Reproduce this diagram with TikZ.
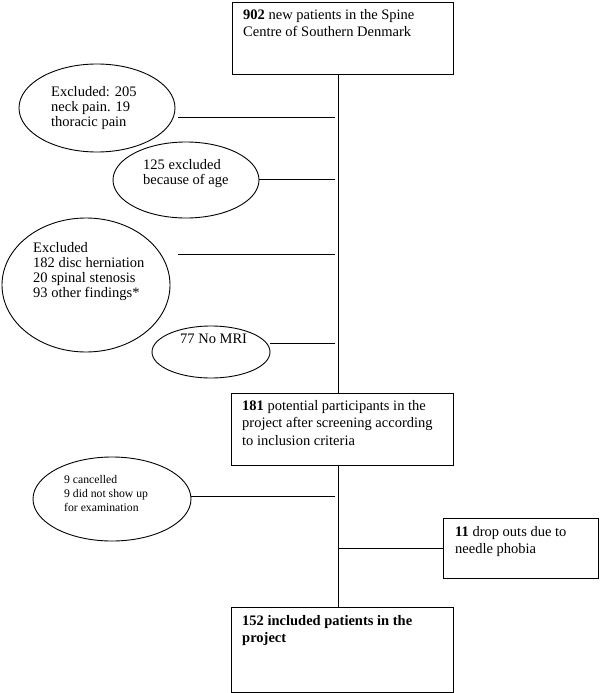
\documentclass[tikz,border=0pt]{standalone}
\usepackage{fontspec}
\setmainfont{Liberation Serif}
\usetikzlibrary{shapes.geometric}
\begin{document}
\begin{tikzpicture}[x=1pt,y=-1pt,
  ln/.style={line width=0.9pt},
  boxnode/.style={draw,line width=0.9pt,rectangle,inner sep=0pt},
  ell/.style={draw,line width=0.9pt,ellipse,inner sep=0pt},
  boxtxt/.style={anchor=north west,inner sep=0pt,align=left,font=\fontsize{14.5}{17.5}\selectfont},
  elltxt/.style={anchor=north west,inner sep=0pt,align=left,font=\fontsize{14.5}{15.2}\selectfont},
  smalltxt/.style={anchor=north west,inner sep=0pt,align=left,font=\fontsize{11.7}{14}\selectfont}]
\useasboundingbox (0,0) rectangle (600,693);
% boxes
\node[boxnode,minimum width=221pt,minimum height=72pt] (top) at (342.5,38) {};
\node[boxnode,minimum width=222pt,minimum height=72pt] (b181) at (342,429) {};
\node[boxnode,minimum width=222pt,minimum height=85pt] (b152) at (342,649.5) {};
\node[boxnode,minimum width=155pt,minimum height=60pt] (bdrop) at (520.5,548) {};
% ellipses
\node[ell,minimum width=156pt,minimum height=88pt] (e1) at (97,108) {};
\node[ell,minimum width=146pt,minimum height=76pt] (e2) at (186,180) {};
\node[ell,minimum width=168pt,minimum height=134pt] (e3) at (86,285) {};
\node[ell,minimum width=118pt,minimum height=52pt] (e4) at (211,352) {};
\node[ell,minimum width=158pt,minimum height=84pt] (e5) at (112,499) {};
% texts
\node[boxtxt] (ttop) at (243,9) {\textbf{902} new patients in the Spine\\Centre of Southern Denmark};
\node[boxtxt] (t181) at (242,400) {\textbf{181} potential participants in the\\project after screening according\\to inclusion criteria};
\node[boxtxt] (tdrop) at (455,526) {\textbf{11} drop outs due to\\needle phobia};
\node[boxtxt] (t152) at (242,615) {\textbf{152 included patients in the}\\\textbf{project}};
\node[elltxt] (te1) at (51,86) {Excluded: 205\\neck pain. 19\\thoracic pain};
\node[elltxt] (te2) at (143,159) {125 excluded\\because of age};
\node[elltxt] (te3) at (33,242) {Excluded\\182 disc herniation\\20 spinal stenosis\\93 other findings*};
\node[elltxt] (te4) at (180,334) {77 No MRI};
\node[smalltxt] (te5) at (64,475) {9 cancelled\\9 did not show up\\for examination};
% spine
\coordinate (spine) at (338,0);
\coordinate (j1) at (335,117);
\coordinate (j2) at (335,179);
\coordinate (j3) at (335,254);
\coordinate (j4) at (335,343);
\coordinate (j5) at (335,496);
\draw[ln] (top.south -| spine) -- (b181.north -| spine);
\draw[ln] (b181.south -| spine) -- (b152.north -| spine);
\draw[ln] (j1) -- ([xshift=3pt]j1 -| e1.east);
\draw[ln] (j2) -- (j2 -| e2.east);
\draw[ln] (j3) -- ([xshift=8pt]j3 -| e3.east);
\draw[ln] (j4) -- (j4 -| e4.east);
\draw[ln] (j5) -- (j5 -| e5.east);
\draw[ln] (spine |- bdrop.west) -- (bdrop.west);
\end{tikzpicture}
\end{document}
